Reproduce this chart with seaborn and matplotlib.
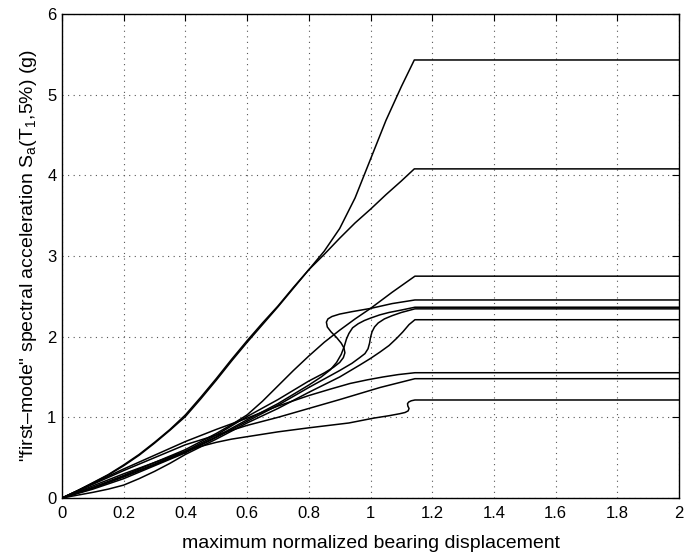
import numpy as np
import pandas as pd
import matplotlib
matplotlib.use("Agg")
import matplotlib.pyplot as plt
import seaborn as sns

# ---- data (x: normalized bearing displacement, y: Sa in g) ----
a_x = [0, 0.05, 0.1, 0.15, 0.2, 0.25, 0.3, 0.35, 0.4, 0.45, 0.5, 0.55, 0.6, 0.65, 0.7, 0.75,
       0.8, 0.85, 0.9, 0.95, 1.0, 1.05, 1.1, 1.142, 2.0]
a_y = [0, 0.09, 0.19, 0.29, 0.41, 0.54, 0.69, 0.85, 1.03, 1.25, 1.48, 1.72, 1.95, 2.17, 2.38, 2.61,
       2.83, 3.06, 3.34, 3.72, 4.20, 4.68, 5.10, 5.43, 5.43]

b_x = [0, 0.05, 0.1, 0.15, 0.2, 0.25, 0.3, 0.35, 0.4, 0.45, 0.5, 0.55, 0.6, 0.65, 0.7, 0.75,
       0.8, 0.85, 0.9, 0.95, 1.0, 1.05, 1.1, 1.142, 2.0]
b_y = [0, 0.09, 0.185, 0.285, 0.40, 0.53, 0.68, 0.84, 1.01, 1.23, 1.46, 1.70, 1.93, 2.15, 2.37, 2.60,
       2.83, 3.02, 3.22, 3.41, 3.58, 3.76, 3.93, 4.08, 4.08]

c_x = [0, 0.1, 0.2, 0.3, 0.4, 0.5, 0.55, 0.6, 0.65, 0.7, 0.75, 0.8, 0.85, 0.9, 0.95, 1.0,
       1.07, 1.144, 2.0]
c_y = [0, 0.13, 0.28, 0.44, 0.60, 0.80, 0.91, 1.03, 1.20, 1.39, 1.58, 1.76, 1.93, 2.08, 2.22, 2.35,
       2.55, 2.75, 2.75]

d_x = [0, 0.1, 0.2, 0.3, 0.4, 0.5, 0.6, 0.7, 0.8, 0.85, 0.88, 0.90, 0.912, 0.917, 0.914, 0.905,
       0.89, 0.872, 0.86, 0.857, 0.862, 0.875, 0.90, 0.94, 1.0, 1.07, 1.144, 2.0]
d_y = [0, 0.13, 0.27, 0.42, 0.58, 0.78, 1.01, 1.22, 1.45, 1.55, 1.62, 1.68, 1.74, 1.80, 1.86, 1.92,
       1.99, 2.06, 2.12, 2.18, 2.22, 2.25, 2.28, 2.31, 2.35, 2.41, 2.455, 2.455]

e_x = [0, 0.1, 0.2, 0.3, 0.4, 0.5, 0.6, 0.7, 0.8, 0.84, 0.87, 0.89, 0.905, 0.915, 0.922, 0.93,
       0.942, 0.96, 0.98, 1.0, 1.03, 1.06, 1.1, 1.144, 2.0]
e_y = [0, 0.12, 0.26, 0.41, 0.57, 0.76, 0.97, 1.17, 1.40, 1.50, 1.59, 1.68, 1.78, 1.88, 1.97, 2.04,
       2.11, 2.16, 2.20, 2.23, 2.27, 2.30, 2.33, 2.365, 2.365]

f_x = [0, 0.1, 0.2, 0.3, 0.4, 0.5, 0.6, 0.7, 0.8, 0.9, 0.94, 0.965, 0.982, 0.992, 0.997, 1.0,
       1.005, 1.013, 1.025, 1.045, 1.07, 1.1, 1.144, 2.0]
f_y = [0, 0.11, 0.24, 0.40, 0.56, 0.75, 0.95, 1.15, 1.37, 1.58, 1.67, 1.74, 1.79, 1.85, 1.92, 1.99,
       2.06, 2.12, 2.17, 2.22, 2.26, 2.30, 2.345, 2.345]

g_x = [0, 0.1, 0.15, 0.2, 0.25, 0.3, 0.35, 0.4, 0.5, 0.6, 0.7, 0.8, 0.9, 0.966, 1.0, 1.031,
       1.06, 1.085, 1.105, 1.125, 1.144, 2.0]
g_y = [0, 0.07, 0.11, 0.16, 0.24, 0.33, 0.43, 0.54, 0.73, 0.93, 1.11, 1.31, 1.50, 1.65, 1.73, 1.81,
       1.89, 1.98, 2.06, 2.15, 2.21, 2.21]

h_x = [0, 0.1, 0.2, 0.3, 0.4, 0.5, 0.6, 0.7, 0.8, 0.87, 0.934, 0.99, 1.04, 1.09, 1.144, 2.0]
h_y = [0, 0.18, 0.36, 0.53, 0.70, 0.85, 0.99, 1.14, 1.27, 1.35, 1.42, 1.465, 1.50, 1.53, 1.553, 1.553]

i_x = [0, 0.1, 0.2, 0.3, 0.4, 0.5, 0.6, 0.7, 0.8, 0.9, 1.031, 1.144, 2.0]
i_y = [0, 0.17, 0.34, 0.50, 0.66, 0.78, 0.90, 1.00, 1.11, 1.22, 1.37, 1.479, 1.479]

j_x = [0, 0.1, 0.2, 0.3, 0.4, 0.45, 0.5, 0.55, 0.6, 0.7, 0.8, 0.93, 1.01, 1.06, 1.095, 1.112,
       1.122, 1.125, 1.121, 1.12, 1.124, 1.132, 1.144, 2.0]
j_y = [0, 0.15, 0.30, 0.44, 0.58, 0.64, 0.69, 0.73, 0.76, 0.82, 0.87, 0.93, 0.99, 1.02, 1.045, 1.06,
       1.08, 1.11, 1.14, 1.17, 1.19, 1.205, 1.215, 1.215]

curves = {"A": (a_x, a_y), "B": (b_x, b_y), "C": (c_x, c_y), "D": (d_x, d_y),
          "E": (e_x, e_y), "F": (f_x, f_y), "G": (g_x, g_y), "H": (h_x, h_y),
          "I": (i_x, i_y), "J": (j_x, j_y)}

x_ticks = [0, 0.2, 0.4, 0.6, 0.8, 1, 1.2, 1.4, 1.6, 1.8, 2]
x_tick_labels = ["0", "0.2", "0.4", "0.6", "0.8", "1", "1.2", "1.4", "1.6", "1.8", "2"]
y_ticks = [0, 1, 2, 3, 4, 5, 6]
y_tick_labels = ["0", "1", "2", "3", "4", "5", "6"]

rows = []
for name, (xs, ys) in curves.items():
    for k, (xv, yv) in enumerate(zip(xs, ys)):
        rows.append({"curve": name, "order": k, "x": xv, "y": yv})
df = pd.DataFrame(rows)

sns.set_theme(style="white")
plt.rcParams["font.family"] = ["Liberation Sans", "DejaVu Sans"]
plt.rcParams["mathtext.fontset"] = "custom"
plt.rcParams["mathtext.rm"] = "Liberation Sans"

fig = plt.figure(figsize=(6.99, 5.58), dpi=100)
ax = fig.add_axes([62 / 699, 60 / 558, 617 / 699, 484 / 558])

sns.lineplot(data=df, x="x", y="y", units="curve", estimator=None, sort=False,
             color="black", linewidth=1.1, ax=ax, legend=False)

ax.set_xlim(0, 2)
ax.set_ylim(0, 6)
ax.set_xticks(x_ticks)
ax.set_xticklabels(x_tick_labels)
ax.set_yticks(y_ticks)
ax.set_yticklabels(y_tick_labels)
ax.grid(True, linestyle=(0, (1, 4)), color="#555555", linewidth=0.8)
ax.tick_params(direction="in", length=5, width=0.8, top=True, right=True,
               labelsize=12, colors="black")
ax.tick_params(axis="x", pad=6)
ax.tick_params(axis="y", pad=4)
for s in ax.spines.values():
    s.set_visible(True)
    s.set_color("black")
    s.set_linewidth(1.0)

ax.set_xlabel("maximum normalized bearing displacement", fontsize=14, color="black", labelpad=10)
ax.set_ylabel('"first\u2013mode" spectral acceleration S$_\\mathregular{a}$(T$_\\mathregular{1}$,5%) (g)',
              fontsize=14, color="black", labelpad=6)

fig.savefig("out.png", dpi=100, facecolor="white")
